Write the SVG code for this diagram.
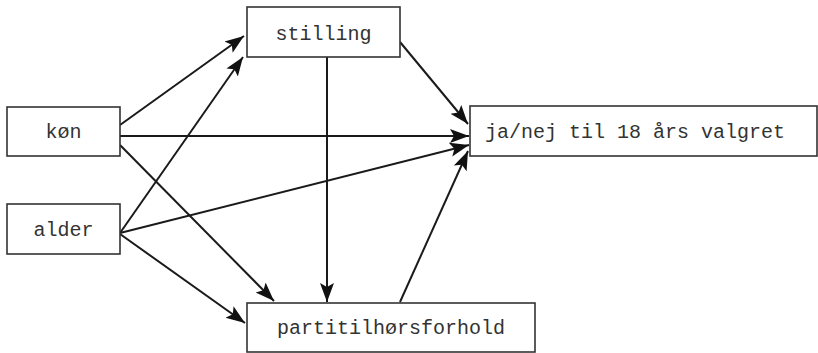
<svg xmlns="http://www.w3.org/2000/svg" width="818" height="353" viewBox="0 0 818 353">
<style>
.box{fill:#fff;stroke:#333;stroke-width:1.6}
.lbl{font-family:"Liberation Mono","DejaVu Sans Mono",monospace;font-size:20px;fill:#333}
.edge{stroke:#1a1a1a;stroke-width:2;fill:none;marker-end:url(#ah)}
</style>
<defs>
<marker id="ah" markerUnits="userSpaceOnUse" markerWidth="20" markerHeight="16" refX="19" refY="8" orient="auto">
<path d="M0,1 L19,8 L0,15 L4,8 z" fill="#111"/>
</marker>
</defs>
<rect width="818" height="353" fill="#fff"/>
<g id="connectors">
<line class="edge" x1="120" y1="125" x2="244" y2="36"/>
<line class="edge" x1="120" y1="233" x2="243" y2="57"/>
<line class="edge" x1="120" y1="136" x2="469" y2="136"/>
<line class="edge" x1="120" y1="145" x2="274" y2="301"/>
<line class="edge" x1="120" y1="233" x2="469" y2="145"/>
<line class="edge" x1="120" y1="234" x2="245" y2="323"/>
<line class="edge" x1="327" y1="57" x2="327" y2="302"/>
<line class="edge" x1="400" y1="42" x2="468" y2="124"/>
<line class="edge" x1="400" y1="302" x2="468" y2="151"/>
</g>
<g id="kon">
<rect class="box" x="7" y="107" width="113" height="49"/>
<text class="lbl" x="63.5" y="138" text-anchor="middle">køn</text>
</g>
<g id="alder">
<rect class="box" x="7" y="204" width="113" height="50"/>
<text class="lbl" x="63.5" y="236" text-anchor="middle">alder</text>
</g>
<g id="stilling">
<rect class="box" x="247" y="7" width="153" height="50"/>
<text class="lbl" x="323.5" y="40" text-anchor="middle">stilling</text>
</g>
<g id="valgret">
<rect class="box" x="470" y="106" width="347" height="50"/>
<text class="lbl" x="485" y="138">ja/nej til 18 års valgret</text>
</g>
<g id="parti">
<rect class="box" x="247" y="303" width="288" height="49"/>
<text class="lbl" x="391" y="334" text-anchor="middle">partitilhørsforhold</text>
</g>
</svg>
